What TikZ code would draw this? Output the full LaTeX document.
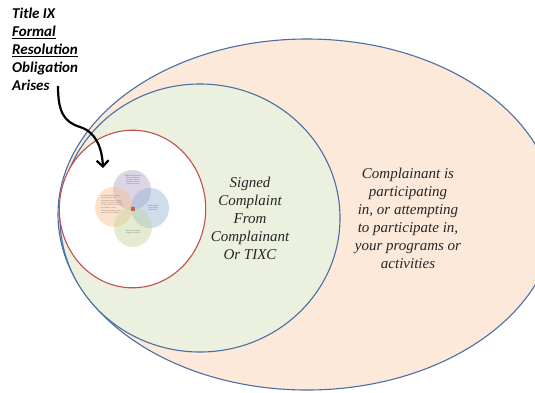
\documentclass[tikz,border=0pt]{standalone}
\usepackage{fontspec}
\setmainfont{Liberation Serif}
\newfontfamily\calib{Carlito}
\usetikzlibrary{arrows.meta}
\definecolor{peach}{HTML}{FDE9D9}
\definecolor{pale green}{HTML}{EBF1DE}
\definecolor{ring blue}{HTML}{4A6FA5}
\definecolor{ring red}{HTML}{C0504D}
\definecolor{v purple}{HTML}{B3A2C7}
\definecolor{v orange}{HTML}{FAC090}
\definecolor{v blue}{HTML}{95B3D7}
\definecolor{v green}{HTML}{C3D69B}
\tikzset{
  ring/.style={line width=1.1pt},
  venn/.style={fill opacity=0.45, draw=none},
  big label/.style={align=center, inner sep=0pt, font=\fontsize{15}{18}\selectfont\itshape, text=black!85},
  tiny label/.style={inner sep=0pt, font=\fontsize{1.6}{2.1}\selectfont, text=black!70},
  title label/.style={align=left, inner sep=0pt, font=\calib\bfseries\itshape\fontsize{15}{18}\selectfont},
  pointer/.style={line width=2.2pt, -{Straight Barb[length=6pt, width=12pt, line width=2.2pt]}}
}
\begin{document}
\begin{tikzpicture}[x=1pt,y=-1pt]
\useasboundingbox (0,0) rectangle (535,392);
\clip (0,0) rectangle (535,392);
% outer ellipse
\draw[ring, draw=ring blue, fill=peach] (307,214.5) ellipse [x radius=249, y radius=175.5];
% middle ellipse
\draw[ring, draw=ring blue, fill=pale green] (200,218) ellipse [x radius=140, y radius=134];
% red circle
\draw[ring, draw=ring red, fill=white] (132.5,209) ellipse [x radius=73.2, y radius=78.8];
% Venn
\fill[venn, fill=v purple] (132,190) ellipse [x radius=19, y radius=20];
\fill[venn, fill=v orange] (114,207) ellipse [x radius=19, y radius=20];
\fill[venn, fill=v blue] (150,208) ellipse [x radius=19, y radius=20];
\fill[venn, fill=v green] (133,227) ellipse [x radius=19, y radius=20];
\fill[ring red, fill opacity=0.85] (130.5,207) rectangle (134.5,211);
\node[tiny label, align=center, text width=18pt] (vtop) at (133,180) {Within the actual knowledge of the TIXC or an official with the authority to institute corrective measures};
\node[tiny label, align=center, text width=14pt] (vright) at (153,208) {Occurred against a person in the United States};
\node[tiny label, align=center, text width=18pt] (vbottom) at (133,232) {Within the educational program and activity};
\node[tiny label, align=left, text width=22pt, anchor=north west] (vleft) at (101,195) {Sexual harassment by an employee (quid pro quo)\\[1.2pt] Unwelcome conduct so severe, pervasive and objectively offensive that it denies equal access to the program or activity\\[1.2pt] Sexual assault, dating violence, domestic violence, stalking};
% texts
\node[big label] (signed) at (250,218) {Signed\\Complaint\\From\\Complainant\\Or TIXC};
\node[big label] (participating) at (408,218) {Complainant is\\participating\\in, or attempting\\to participate in,\\your programs or\\activities};
\node[title label, anchor=north west] (title) at (12,8) {Title IX\\\underline{Formal}\\\underline{Resolution}\\Obligation\\Arises};
\coordinate (start) at (58,86);
\coordinate (tip) at (103,168);
\draw[pointer] (start) .. controls (58,112) and (64,122) .. (80,127) .. controls (96,132) and (102,148) .. (tip);
\end{tikzpicture}
\end{document}
